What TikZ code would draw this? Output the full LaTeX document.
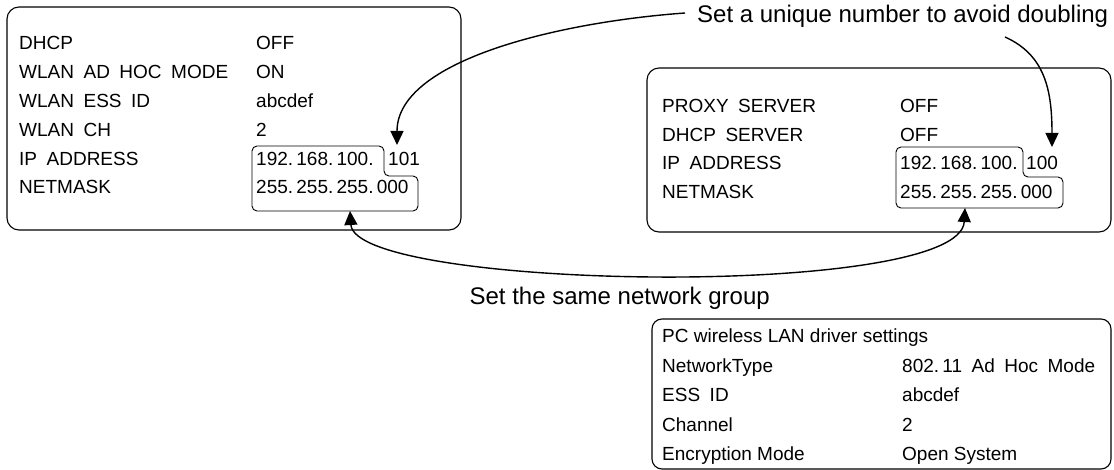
\documentclass[tikz,border=0pt]{standalone}
\usepackage{fontspec}
\setmainfont{Liberation Sans}
\usetikzlibrary{arrows.meta}
\newcommand{\wsp}{\hspace{0.5em}}
\newcommand{\dsp}{\hspace{0.17em}}
\begin{document}
\begin{tikzpicture}[x=1pt,y=-1pt,
  frame/.style={draw, line width=1.1pt, rounded corners=12pt},
  grp/.style={draw, line width=0.9pt, rounded corners=5pt},
  txt/.style={anchor=base west, inner sep=0pt, font=\fontsize{19}{22}\selectfont},
  lbl/.style={inner sep=0pt, font=\fontsize{24}{28}\selectfont},
  conn/.style={line width=1.4pt, >={Triangle[width=13pt,length=14pt]}},
]
\useasboundingbox (0,0) rectangle (1114,470);
% frames
\draw[frame] (7,7) rectangle (461,230);
\draw[frame] (647,68) rectangle (1111,232);
\draw[frame, rounded corners=10pt] (652,319) rectangle (1111,469);
% group outlines
\draw[grp] (252,178) |- (384,146) |- (418,176) |- (252,211) -- cycle;
\draw[grp] (896,178) |- (1023,147) |- (1063,177) |- (896,208) -- cycle;
% left box texts
\node[txt] (l1) at (19,50) {DHCP};
\node[txt] (l2) at (19,78.8) {WLAN\wsp AD\wsp HOC\wsp MODE};
\node[txt] (l3) at (19,107.6) {WLAN\wsp ESS\wsp ID};
\node[txt] (l4) at (19,136.4) {WLAN\wsp CH};
\node[txt] (l5) at (19,165.2) {IP\wsp ADDRESS};
\node[txt] (l6) at (19,194) {NETMASK};
\node[txt] (v1) at (256,50) {OFF};
\node[txt] (v2) at (256,78.8) {ON};
\node[txt] (v3) at (256,107.6) {abcdef};
\node[txt] (v4) at (256,136.4) {2};
\node[txt] (v5) at (256,165.2) {192.\dsp168.\dsp100.};
\node[txt] (v5b) at (388,165.2) {101};
\node[txt] (v6) at (256,194) {255.\dsp255.\dsp255.\dsp000};
% right box texts
\node[txt] (r1) at (662,113) {PROXY\wsp SERVER};
\node[txt] (r2) at (662,141.5) {DHCP\wsp SERVER};
\node[txt] (r3) at (662,170) {IP\wsp ADDRESS};
\node[txt] (r4) at (662,198.5) {NETMASK};
\node[txt] (s1) at (900,113) {OFF};
\node[txt] (s2) at (900,141.5) {OFF};
\node[txt] (s3) at (900,170) {192.\dsp168.\dsp100.};
\node[txt] (s3b) at (1026,170) {100};
\node[txt] (s4) at (900,198.5) {255.\dsp255.\dsp255.\dsp000};
% bottom box texts
\node[txt] (b0) at (662,343) {PC wireless LAN driver settings};
\node[txt] (b1) at (662,372.3) {NetworkType};
\node[txt] (b2) at (662,401.6) {ESS\wsp ID};
\node[txt] (b3) at (662,431) {Channel};
\node[txt] (b4) at (662,460) {Encryption Mode};
\node[txt] (c1) at (902,372.3) {802.\dsp11\wsp Ad\wsp Hoc\wsp Mode};
\node[txt] (c2) at (902,401.6) {abcdef};
\node[txt] (c3) at (902,431) {2};
\node[txt] (c4) at (902,460) {Open System};
% labels
\node[lbl, anchor=base west] (topl) at (697,23) {Set a unique number to avoid doubling};
\node[lbl, anchor=base east] (midl) at (770,305) {Set the same network group};
% connector points
\coordinate (tagA) at (685,13);
\coordinate (tipL) at (397,145);
\coordinate (tagB) at (1005,37);
\coordinate (tipR) at (1052,147);
\coordinate (nmL) at (350,211);
\coordinate (nmR) at (965,208);
% connectors
\draw[conn, ->] (tagA) .. controls (560,22) and (397,60) .. (tipL);
\draw[conn, ->] (tagB) .. controls (1045,55) and (1052,90) .. (tipR);
\draw[conn, <->] (nmL) .. controls (355,290) and (960,300) .. (nmR);
\end{tikzpicture}
\end{document}
